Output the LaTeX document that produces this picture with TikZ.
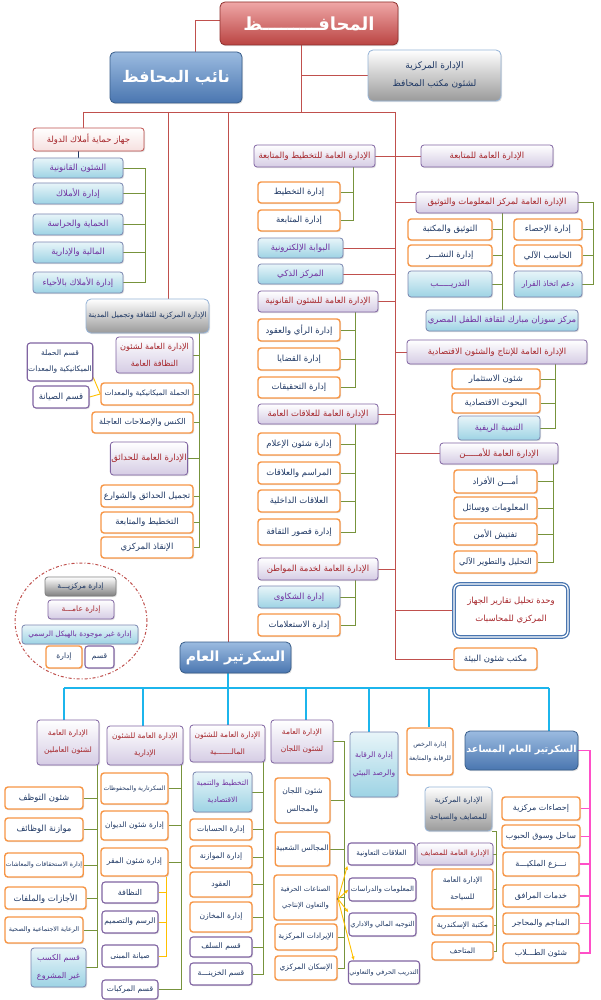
\documentclass[tikz,border=0pt]{standalone}
\usepackage{fontspec}
\newfontfamily\arabicfont[Script=Arabic]{DejaVu Sans}
\TeXXeTstate=1
\usetikzlibrary{shadows,arrows.meta}
\definecolor{cRed}{HTML}{C0504D}
\definecolor{cGreen}{HTML}{77933C}
\definecolor{cCyan}{HTML}{1CB5EC}
\definecolor{cPink}{HTML}{FF4FC8}
\definecolor{cYel}{HTML}{FFC000}
\definecolor{cOrange}{HTML}{F79646}
\definecolor{cNavy}{HTML}{1F3864}
\definecolor{cPurple}{HTML}{8064A2}
\definecolor{cLav}{HTML}{D5CCE4}
\definecolor{cDRed}{HTML}{A6262B}
\definecolor{cLBlue}{HTML}{9DD3E4}
\definecolor{cLBlueT}{HTML}{E8F5F9}
\definecolor{cVio}{HTML}{7030A0}
\definecolor{cSlate}{HTML}{7A86B0}
\definecolor{cBlueA}{HTML}{9BBBE0}
\definecolor{cBlueB}{HTML}{4A76B0}
\definecolor{cBlueD}{HTML}{385D8A}
\definecolor{cRedA}{HTML}{EFA7A7}
\definecolor{cRedB}{HTML}{BA4442}
\definecolor{cRedD}{HTML}{8E2F2D}
\definecolor{cGray}{HTML}{9A9A9A}
\definecolor{cSky}{HTML}{95B3D7}
\definecolor{cPinkL}{HTML}{F6E0DF}
\newcommand\AR[1]{\beginR #1\endR}
\newcommand\bx[7]{\node[#1, minimum width={(#5-#3)*1pt}, minimum height={(#6-#4)*1pt}] (#2) at ({(#3+#5)/2},{(#4+#6)/2}) {#7};}
\pgfdeclarelayer{bg}
\pgfsetlayers{bg,main}
\begin{document}
\begin{tikzpicture}[x=1pt,y=-1pt,
  fs/.style 2 args={font=\arabicfont\fontsize{#1}{#2}\selectfont},
  fsb/.style 2 args={font=\arabicfont\bfseries\fontsize{#1}{#2}\selectfont},
  basebox/.style={rounded corners=3pt, align=center, inner sep=1pt, line width=0.8pt, fs={8.5}{10},
     drop shadow={shadow xshift=1pt, shadow yshift=-1.2pt, opacity=0.25}},
  redbox/.style={basebox, top color=cRedA, bottom color=cRedB, draw=cRedD, text=white, rounded corners=5pt},
  bluebox/.style={basebox, top color=cBlueA, bottom color=cBlueB, draw=cBlueD, text=white, rounded corners=5pt},
  centralbox/.style={basebox, top color=white, bottom color=cGray, draw=cSky, text=cNavy, rounded corners=5pt},
  generalbox/.style={basebox, top color=white, bottom color=cLav, draw=cPurple, text=cDRed},
  orangebox/.style={basebox, fill=white, draw=cOrange, line width=1.4pt, text=cNavy},
  unoffbox/.style={basebox, top color=cLBlueT, bottom color=cLBlue, draw=cSlate, text=cVio},
  qbox/.style={basebox, fill=white, draw=cPurple, line width=1.1pt, text=cNavy},
  spbox/.style={basebox, top color=white, bottom color=cPinkL, draw=cRed, text=cDRed},
  auditbox/.style={basebox, fill=white, draw=cBlueB, line width=1.3pt, double=white, double distance=1.2pt, text=cDRed, rounded corners=6pt},
  redln/.style={draw=cRed, line width=0.9pt},
  grnln/.style={draw=cGreen, line width=0.9pt},
  cyanln/.style={draw=cCyan, line width=1.4pt},
  pinkln/.style={draw=cPink, line width=1.1pt},
  yelln/.style={draw=cYel, line width=0.9pt},
  darkln/.style={draw=cNavy, line width=0.7pt},
  keyring/.style={draw=cRed, line width=1pt, dash dot}
]
\useasboundingbox (0,0) rectangle (600,1000);

% ---------- top ----------
\bx{redbox, fsb={18}{20}}{gov}{220}{2}{398}{45}{\AR{المحافـــــــــظ}}
\bx{bluebox, fsb={16}{19}}{dep}{110}{52}{242}{103}{\AR{نائب المحافظ}}
\bx{centralbox, fs={9}{18}}{cab}{368}{50}{501}{101}{\AR{الإدارة المركزية}\\\AR{لشئون مكتب المحافظ}}

% ---------- right branch ----------
\bx{generalbox}{pm}{254}{145}{375}{167}{\AR{الإدارة العامة للتخطيط والمتابعة}}
\bx{generalbox}{fu}{421}{145}{553}{167}{\AR{الإدارة العامة للمتابعة}}
\bx{generalbox}{ic}{416}{192}{578}{213}{\AR{الإدارة العامة لمركز المعلومات والتوثيق}}
\bx{orangebox}{pm1}{258}{182}{340}{203}{\AR{إدارة التخطيط}}
\bx{orangebox}{pm2}{258}{210}{340}{231}{\AR{إدارة المتابعة}}
\bx{orangebox}{ic4}{408}{219}{492}{240}{\AR{التوثيق والمكتبة}}
\bx{orangebox}{ic5}{408}{245}{492}{266}{\AR{إدارة النشـــر}}
\bx{unoffbox}{ic6}{408}{271}{492}{297}{\AR{التدريـــــب}}
\bx{orangebox}{ic1}{514}{219}{582}{240}{\AR{إدارة الإحصاء}}
\bx{orangebox}{ic2}{514}{245}{582}{266}{\AR{الحاسب الآلي}}
\bx{unoffbox, fs={7.8}{10}}{ic3}{514}{271}{582}{297}{\AR{دعم اتخاذ القرار}}
\bx{unoffbox}{ic7}{426}{310}{578}{331}{\AR{مركز سوزان مبارك لثقافة الطفل المصري}}
\bx{unoffbox}{ep}{258}{238}{343}{258}{\AR{البوابة الإلكترونية}}
\bx{unoffbox}{sc}{258}{264}{343}{284}{\AR{المركز الذكي}}
\bx{generalbox}{lg}{258}{291}{378}{312}{\AR{الإدارة العامة للشئون القانونية}}
\bx{orangebox}{lg1}{258}{319}{340}{341}{\AR{إدارة الرأي والعقود}}
\bx{orangebox}{lg2}{258}{348}{340}{370}{\AR{إدارة القضايا}}
\bx{orangebox}{lg3}{258}{377}{340}{398}{\AR{إدارة التحقيقات}}
\bx{generalbox}{pe}{407}{340}{587}{364}{\AR{الإدارة العامة للإنتاج والشئون الاقتصادية}}
\bx{orangebox}{pe1}{452}{369}{540}{389}{\AR{شئون الاستثمار}}
\bx{orangebox}{pe2}{452}{393}{540}{413}{\AR{البحوث الاقتصادية}}
\bx{unoffbox}{pe3}{458}{416}{540}{440}{\AR{التنمية الريفية}}
\bx{generalbox}{pr}{258}{404}{378}{424}{\AR{الإدارة العامة للعلاقات العامة}}
\bx{orangebox}{pr1}{258}{433}{340}{455}{\AR{إدارة شئون الإعلام}}
\bx{orangebox}{pr2}{258}{462}{340}{484}{\AR{المراسم والعلاقات}}
\bx{orangebox}{pr3}{258}{490}{340}{512}{\AR{العلاقات الداخلية}}
\bx{orangebox}{pr4}{258}{519}{340}{545}{\AR{إدارة قصور الثقافة}}
\bx{generalbox}{sec}{440}{443}{558}{464}{\AR{الإدارة العامة للأمـــــن}}
\bx{orangebox}{sec1}{454}{470}{537}{493}{\AR{أمـــن الأفراد}}
\bx{orangebox}{sec2}{454}{497}{537}{519}{\AR{المعلومات ووسائل}}
\bx{orangebox}{sec3}{454}{523}{537}{545}{\AR{تفتيش الأمن}}
\bx{orangebox, fs={8}{10}}{sec4}{454}{551}{537}{573}{\AR{التحليل والتطوير الآلي}}
\bx{generalbox}{cs}{258}{558}{378}{580}{\AR{الإدارة العامة لخدمة المواطن}}
\bx{unoffbox}{cs1}{258}{586}{340}{608}{\AR{إدارة الشكاوى}}
\bx{orangebox}{cs2}{258}{614}{340}{636}{\AR{إدارة الاستعلامات}}
\bx{auditbox, fs={8.5}{18}}{au}{454}{584}{568}{637}{\AR{وحدة تحليل تقارير الجهاز}\\\AR{المركزي للمحاسبات}}
\bx{orangebox}{env}{454}{648}{537}{670}{\AR{مكتب شئون البيئة}}

% ---------- left branch ----------
\bx{spbox}{sp}{33}{128}{144}{151}{\AR{جهاز حماية أملاك الدولة}}
\bx{unoffbox}{sp1}{33}{158}{123}{178}{\AR{الشئون القانونية}}
\bx{unoffbox}{sp2}{33}{183}{123}{204}{\AR{إدارة الأملاك}}
\bx{unoffbox}{sp3}{33}{214}{123}{235}{\AR{الحماية والحراسة}}
\bx{unoffbox}{sp4}{33}{242}{123}{263}{\AR{المالية والإدارية}}
\bx{unoffbox}{sp5}{33}{272}{123}{293}{\AR{إدارة الأملاك بالأحياء}}
\bx{centralbox, fs={7.4}{10}}{cu}{86}{299}{209}{333}{\AR{الإدارة المركزية للثقافة وتجميل المدينة}}
\bx{generalbox, fs={8.2}{17}}{cl}{116}{337}{193}{373}{\AR{الإدارة العامة لشئون}\\\AR{النظافة العامة}}
\bx{orangebox, fs={7.4}{10}}{cl1}{101}{383}{193}{405}{\AR{الحملة الميكانيكية والمعدات}}
\bx{orangebox, fs={8}{10}}{cl2}{92}{412}{193}{433}{\AR{الكنس والإصلاحات العاجلة}}
\bx{qbox, fs={7.5}{16}}{q1}{28}{343}{92}{381}{\AR{قسم الحملة}\\\AR{الميكانيكية والمعدات}}
\bx{qbox}{q2}{33}{386}{89}{408}{\AR{قسم الصيانة}}
\bx{generalbox}{gd}{111}{442}{187}{475}{\AR{الإدارة العامة للحدائق}}
\bx{orangebox}{gd1}{101}{485}{193}{507}{\AR{تجميل الحدائق والشوارع}}
\bx{orangebox}{gd2}{101}{512}{193}{533}{\AR{التخطيط والمتابعة}}
\bx{orangebox}{gd3}{101}{537}{193}{558}{\AR{الإنقاذ المركزي}}

% ---------- key ----------
\draw[keyring] (81,621) ellipse [x radius=66pt, y radius=58pt];
\bx{centralbox, draw=gray, bottom color=gray, fs={7.5}{9}, rounded corners=3pt}{key1}{45}{577}{116}{596}{\AR{إدارة مركزيـــة}}
\bx{generalbox, fs={7.5}{9}}{key2}{48}{600}{114}{619}{\AR{إدارة عامـــة}}
\bx{unoffbox, fs={7.3}{9}}{key3}{22}{625}{138}{644}{\AR{إدارة غير موجودة بالهيكل الرسمي}}
\bx{orangebox, fs={7.5}{9}}{key4}{46}{646}{82}{668}{\AR{إدارة}}
\bx{qbox, fs={7.5}{9}}{key5}{85}{646}{114}{668}{\AR{قسم}}

% ---------- secretary general ----------
\bx{bluebox, fsb={14}{16}}{sg}{180}{642}{291}{673}{\AR{السكرتير العام}}

\bx{generalbox, fs={7.5}{17}}{hr}{37}{720}{99}{765}{\AR{الإدارة العامة}\\\AR{لشئون العاملين}}
\bx{generalbox, fs={7.5}{17}}{ad}{107}{726}{183}{765}{\AR{الإدارة العامة للشئون}\\\AR{الإدارية}}
\bx{generalbox, fs={7.5}{17}}{fn}{190}{725}{265}{762}{\AR{الإدارة العامة للشئون}\\\AR{المالـــــــية}}
\bx{generalbox, fs={7.5}{17}}{cm}{271}{720}{333}{763}{\AR{الإدارة العامة}\\\AR{لشئون اللجان}}
\bx{unoffbox, fs={7.5}{18}}{ev}{350}{732}{398}{797}{\AR{إدارة الرقابة}\\\AR{والرصد البيئي}}
\bx{orangebox, fs={6.3}{14}}{lc}{407}{728}{453}{775}{\AR{إدارة الرخص}\\\AR{للرقابة والمتابعة}}
\bx{bluebox, fsb={9.6}{12}}{asg}{465}{731}{578}{770}{\AR{السكرتير العام المساعد}}

\bx{orangebox}{hr1}{5}{787}{83}{809}{\AR{شئون التوظف}}
\bx{orangebox}{hr2}{5}{818}{83}{841}{\AR{موازنة الوظائف}}
\bx{orangebox, fs={6.2}{8}}{hr3}{5}{853}{83}{877}{\AR{إدارة الاستحقاقات والمعاشات}}
\bx{orangebox}{hr4}{5}{887}{86}{909}{\AR{الأجازات والملفات}}
\bx{orangebox, fs={6.4}{8}}{hr5}{5}{917}{83}{943}{\AR{الرعاية الاجتماعية والصحية}}
\bx{unoffbox, fs={8}{18}}{hr6}{31}{948}{86}{987}{\AR{قسم الكسب}\\\AR{غير المشروع}}

\bx{orangebox, fs={6.1}{8}}{ad1}{101}{773}{168}{804}{\AR{السكرتارية والمحفوظات}}
\bx{orangebox, fs={7.4}{9}}{ad2}{101}{811}{168}{840}{\AR{إدارة شئون الديوان}}
\bx{orangebox, fs={7.6}{9}}{ad3}{101}{848}{168}{876}{\AR{إدارة شئون المقر}}
\bx{qbox, fs={8}{9}}{ad4}{102}{882}{158}{903}{\AR{النظافة}}
\bx{qbox, fs={7.6}{9}}{ad5}{102}{911}{158}{933}{\AR{الرسم والتصميم}}
\bx{qbox, fs={7.6}{9}}{ad6}{102}{945}{158}{967}{\AR{صيانة المبنى}}
\bx{qbox, fs={7.6}{9}}{ad7}{102}{980}{158}{999}{\AR{قسم المركبات}}

\bx{unoffbox, fs={7.4}{17}}{fn1}{193}{772}{252}{812}{\AR{التخطيط والتنمية}\\\AR{الاقتصادية}}
\bx{orangebox, fs={7.6}{9}}{fn2}{190}{819}{252}{840}{\AR{إدارة الحسابات}}
\bx{orangebox, fs={7.6}{9}}{fn3}{190}{846}{252}{868}{\AR{إدارة الموازنة}}
\bx{orangebox, fs={7.6}{9}}{fn4}{190}{872}{252}{897}{\AR{العقود}}
\bx{orangebox, fs={7.6}{9}}{fn5}{190}{902}{252}{932}{\AR{إدارة المخازن}}
\bx{qbox, fs={7.6}{9}}{fn6}{190}{937}{252}{957}{\AR{قسم السلف}}
\bx{qbox, fs={7.6}{9}}{fn7}{190}{963}{252}{985}{\AR{قسم الخزينـــة}}

\bx{orangebox, fs={7.6}{18}}{cm1}{275}{778}{330}{823}{\AR{شئون اللجان}\\\AR{والمجالس}}
\bx{orangebox, fs={7.4}{9}}{cm2}{277}{832}{328}{866}{\AR{المجالس الشعبية}}
\bx{orangebox, fs={6.8}{16}}{cm3}{274}{875}{337}{920}{\AR{الصناعات الحرفية}\\\AR{والتعاون الإنتاجي}}
\bx{orangebox, fs={7.4}{9}}{cm4}{275}{924}{337}{950}{\AR{الإيرادات المركزية}}
\bx{orangebox, fs={7.4}{9}}{cm5}{275}{956}{337}{980}{\AR{الإسكان المركزي}}

\bx{qbox, fs={7.2}{9}}{co1}{348}{843}{415}{865}{\AR{العلاقات التعاونية}}
\bx{qbox, fs={7}{9}}{co2}{349}{878}{416}{901}{\AR{المعلومات والدراسات}}
\bx{qbox, fs={6.8}{9}}{co3}{349}{913}{416}{936}{\AR{التوجيه المالي والاداري}}
\bx{qbox, fs={6.5}{9}}{co4}{351}{961}{417}{984}{\AR{التدريب الحرفي والتعاوني}}

\bx{centralbox, fs={7.4}{17}, rounded corners=4pt}{tr}{425}{787}{492}{831}{\AR{الإدارة المركزية}\\\AR{للمصايف والسياحة}}
\bx{generalbox, fs={7.3}{9}}{tr1}{417}{843}{493}{865}{\AR{الإدارة العامة للمصايف}}
\bx{orangebox, fs={7.4}{17}}{tr2}{432}{869}{493}{909}{\AR{الإدارة العامة}\\\AR{للسياحة}}
\bx{orangebox, fs={7.4}{9}}{tr3}{432}{916}{493}{935}{\AR{مكتبة الإسكندرية}}
\bx{orangebox, fs={7.4}{9}}{tr4}{432}{942}{493}{960}{\AR{المتاحف}}

\bx{orangebox, fs={8}{9}}{as1}{502}{797}{580}{820}{\AR{إحصاءات مركزية}}
\bx{orangebox, fs={8}{9}}{as2}{502}{825}{580}{848}{\AR{ساحل وسوق الحبوب}}
\bx{orangebox, fs={8}{9}}{as3}{503}{852}{579}{876}{\AR{نـــزع الملكيـــة}}
\bx{orangebox, fs={8}{9}}{as4}{503}{885}{579}{907}{\AR{خدمات المرافق}}
\bx{orangebox, fs={8}{9}}{as5}{503}{913}{579}{934}{\AR{المناجم والمحاجر}}
\bx{orangebox, fs={8}{9}}{as6}{503}{943}{579}{963}{\AR{شئون الطـــلاب}}

% ---------- connectors ----------
\begin{pgfonlayer}{bg}
\fill[white] (0,0) rectangle (600,1000);
\coordinate (J0) at (301,112);
\coordinate (L1) at (83,112);
\coordinate (L2) at (168,112);
\coordinate (M1) at (228,112);
\coordinate (R1) at (395,112);
\coordinate (gL) at (195,0);
% red
\draw[redln] (gov.south -| J0) -- (J0);
\draw[redln] (L1) -- (R1);
\draw[redln] (J0 |- cab.west) -- (cab.west);
\draw[redln] (gov.west |- 0,20) -| (gL |- dep.north);
\draw[redln] (L1) -- (L1 |- sp.north);
\draw[redln] (L2) -- (L2 |- cu.north);
\draw[redln] (M1) -- (M1 |- sg.north);
\draw[redln] (R1) -- (R1 |- env.west);
\foreach \n in {pm,ep,sc,lg,pr,cs} \draw[redln] (\n.east) -- (\n.east -| R1);
\foreach \n in {fu,ic,pe,sec,au,env} \draw[redln] (\n.west) -- (\n.west -| R1);
% green brackets right
\coordinate (gPM) at (353,0);
\draw[grnln] (pm.south -| gPM) |- (pm2.east);
\draw[grnln] (pm1.east) -- (pm1.east -| gPM);
\coordinate (gICr) at (593,0);
\draw[grnln] (ic.east) -| (gICr |- ic3.east) -- (ic3.east);
\foreach \n in {ic1,ic2} \draw[grnln] (\n.east) -- (\n.east -| gICr);
\coordinate (gICm) at (502,0);
\draw[grnln] (ic.south -| gICm) -- (ic7.north -| gICm);
\foreach \n in {ic4,ic5,ic6} \draw[grnln] (\n.east) -- (\n.east -| gICm);
\coordinate (gLG) at (355,0);
\draw[grnln] (lg.south -| gLG) |- (lg3.east);
\foreach \n in {lg1,lg2} \draw[grnln] (\n.east) -- (\n.east -| gLG);
\draw[grnln] (pr.south -| gLG) |- (pr4.east);
\foreach \n in {pr1,pr2,pr3} \draw[grnln] (\n.east) -- (\n.east -| gLG);
\draw[grnln] (cs.south -| gLG) |- (cs2.east);
\draw[grnln] (cs1.east) -- (cs1.east -| gLG);
\coordinate (gPE) at (555,0);
\draw[grnln] (pe.south -| gPE) |- (pe3.east);
\foreach \n in {pe1,pe2} \draw[grnln] (\n.east) -- (\n.east -| gPE);
\coordinate (gSEC) at (553,0);
\draw[grnln] (sec.south -| gSEC) |- (sec4.east);
\foreach \n in {sec1,sec2,sec3} \draw[grnln] (\n.east) -- (\n.east -| gSEC);
% green left
\draw[darkln] (sp.south -| sp1.north) -- (sp1.north);
\coordinate (gSP) at (145,0);
\draw[grnln] (sp1.east) -| (gSP |- sp5.east) -- (sp5.east);
\foreach \n in {sp2,sp3,sp4} \draw[grnln] (\n.east) -- (\n.east -| gSP);
\coordinate (gCU) at (199,0);
\draw[grnln] (cu.south -| gCU) |- (gd3.east);
\foreach \n in {cl,cl1,cl2,gd,gd1,gd2} \draw[grnln] (\n.east) -- (\n.east -| gCU);
\draw[yelln] (cl1.west) -- (q2.east);
\draw[yelln] (cl1.west) -- (q1.-25);
% cyan
\coordinate (cH) at (228,688);
\coordinate (cA) at (64,688);
\coordinate (cB) at (143,688);
\coordinate (cD) at (306,688);
\coordinate (cE) at (369,688);
\coordinate (cF) at (429,688);
\coordinate (cG) at (549,688);
\draw[cyanln] (sg.south -| cH) -- (cH) -- (cH |- fn.north);
\draw[cyanln] (cA) -- (cG);
\draw[cyanln] (cA) -- (cA |- hr.north);
\draw[cyanln] (cB) -- (cB |- ad.north);
\draw[cyanln] (cD) -- (cD |- cm.north);
\draw[cyanln] (cE) -- (cE |- ev.north);
\draw[cyanln] (cF) -- (cF |- lc.north);
\draw[cyanln] (cG) -- (cG |- asg.north);
% bottom brackets
\coordinate (gHR) at (97,0);
\draw[grnln] (hr.south -| gHR) |- (hr6.east);
\foreach \n in {hr1,hr2,hr3,hr4,hr5} \draw[grnln] (\n.east) -- (\n.east -| gHR);
\coordinate (gAD) at (181,0);
\draw[grnln] (ad.south -| gAD) |- (ad7.east);
\foreach \n in {ad1,ad2,ad3} \draw[grnln] (\n.east) -- (\n.east -| gAD);
\coordinate (yAD) at (166,0);
\draw[yelln] (ad3.south -| yAD) |- (ad6.east);
\foreach \n in {ad4,ad5} \draw[yelln] (\n.east) -- (\n.east -| yAD);
\coordinate (gFN) at (263,0);
\draw[grnln] (fn.south -| gFN) |- (fn7.east);
\foreach \n in {fn1,fn2,fn3,fn4,fn5,fn6} \draw[grnln] (\n.east) -- (\n.east -| gFN);
\coordinate (gCM) at (344,0);
\draw[grnln] (cm.east) -| (gCM |- cm5.east) -- (cm5.east);
\foreach \n in {cm1,cm2,cm3,cm4} \draw[grnln] (\n.east) -- (\n.east -| gCM);
\coordinate (gTR) at (496,0);
\draw[grnln] (tr.south east) -- (tr.south east -| gTR) |- (tr4.east);
\foreach \n in {tr1,tr2,tr3} \draw[grnln] (\n.east) -- (\n.east -| gTR);
\coordinate (mAS) at (590,0);
\draw[pinkln] (asg.east) -| (mAS |- as6.east) -- (as6.east);
\foreach \n in {as1,as2,as3,as4,as5} \draw[pinkln] (\n.east) -- (\n.east -| mAS);
\end{pgfonlayer}
\coordinate (yO) at (338,899);
\fill[cNavy] (yO) circle (1.3pt);
\foreach \t in {co1.south west,co2.west,co3.north west} \draw[yelln, -{Latex[length=4pt,width=3.5pt]}] (yO) -- (\t);
\draw[yelln, -{Latex[length=4pt,width=3.5pt]}] (yO) -- ([xshift=6pt]co4.north west);
\end{tikzpicture}
\end{document}
